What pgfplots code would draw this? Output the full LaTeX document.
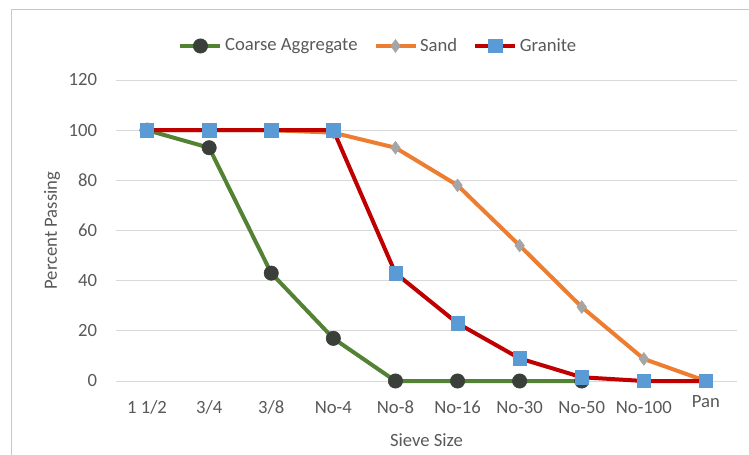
\documentclass[border=0pt]{standalone}
\usepackage{pgfplots}
\pgfplotsset{compat=1.18}
\usepackage{fontspec}
\setmainfont{Carlito}

\definecolor{cagreen}{HTML}{548235}
\definecolor{cadot}{HTML}{3A3F3A}
\definecolor{sandorange}{HTML}{ED7D31}
\definecolor{sanddot}{HTML}{A5A5A5}
\definecolor{granred}{HTML}{C00000}
\definecolor{granblue}{HTML}{5B9BD5}
\definecolor{textgray}{HTML}{595959}
\definecolor{gridgray}{HTML}{D9D9D9}

\begin{document}
\fontsize{14}{17}\selectfont
\begin{tikzpicture}
\useasboundingbox (-87pt,-54.75pt) rectangle (474.75pt,285.75pt);
\draw[black!22, line width=0.75pt] (-78pt,-60pt) |- (480pt,278.25pt);
\begin{axis}[
	scale only axis,
	width=465.75pt, height=225.75pt,
	xmin=-0.5, xmax=9.5,
	ymin=0, ymax=120,
	ytick={0,20,...,120},
	xtick={0,...,9},
	xticklabels={1 1/2,3/4,3/8,No-4,No-8,No-16,No-30,No-50,No-100,\raisebox{4.5pt}{Pan}},
	clip=false,
	axis line style={draw=none},
	major tick length=0pt,
	ymajorgrids,
	grid style={gridgray, line width=0.75pt},
	/pgf/number format/assume math mode=true,
	ticklabel style={text=textgray},
	xticklabel style={anchor=base, yshift=-24.5pt},
	yticklabel style={anchor=east, inner sep=0pt, xshift=-14pt},
	xlabel={Sieve Size},
	ylabel={Percent Passing},
	label style={text=textgray},
	xlabel style={at={(axis description cs:0.5,-0.196)}, anchor=center},
	ylabel style={at={(axis description cs:-0.103,0.5)}, anchor=center},
	legend columns=3,
	legend cell align=left,
	legend style={draw=none, fill=none, text=textgray,
		at={(0.423,1.113)}, anchor=center,
		/tikz/every even column/.append style={column sep=10pt},
		/tikz/every odd column/.append style={column sep=0pt}},
	legend image code/.code={\draw[mark repeat=2,mark phase=2,#1] plot coordinates {(0pt,0pt) (15pt,0pt) (30pt,0pt)};},
]
\addplot[cagreen, line width=3pt, mark=*, mark size=5.4pt,
	mark options={solid, line width=0.4pt, draw=cadot, fill=cadot}]
	coordinates {(0,100) (1,93) (2,43) (3,17) (4,0) (5,0) (6,0) (7,0)};
\addlegendentry{Coarse Aggregate}
\addplot[sandorange, line width=3pt, mark=diamond*, mark size=4.8pt,
	mark options={solid, line width=0.4pt, draw=sanddot, fill=sanddot}]
	coordinates {(0,100) (1,100) (2,100) (3,99) (4,93) (5,78) (6,54) (7,29.5) (8,8.8) (9,0)};
\addlegendentry{Sand}
\addplot[granred, line width=3pt, mark=square*, mark size=5pt,
	mark options={solid, line width=0.4pt, draw=granblue, fill=granblue}]
	coordinates {(0,100) (1,100) (2,100) (3,100) (4,43) (5,23) (6,9) (7,1.5) (8,0) (9,0)};
\addlegendentry{Granite}
\end{axis}
\end{tikzpicture}
\end{document}
